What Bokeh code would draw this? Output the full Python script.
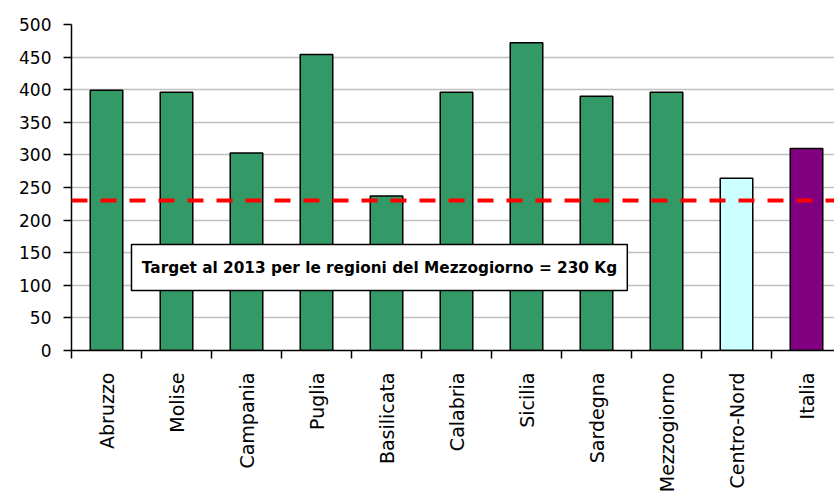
import math
from bokeh.plotting import figure
from bokeh.models import FixedTicker, Span, Label, BoxAnnotation, Range1d, ColumnDataSource
from bokeh.embed import file_html
from bokeh.resources import INLINE

categories = ["Abruzzo", "Molise", "Campania", "Puglia", "Basilicata", "Calabria",
              "Sicilia", "Sardegna", "Mezzogiorno", "Centro-Nord", "Italia"]
values = [399, 396, 303, 454, 237, 396, 472, 390, 396, 264, 310]
colors = ["#339966"] * 9 + ["#ccffff", "#800080"]
target = 230
target_label = "Target al 2013 per le regioni del Mezzogiorno = 230 Kg"
y_ticks = list(range(0, 501, 50))

x = [i + 0.5 for i in range(len(categories))]
src = ColumnDataSource(dict(x=x, top=values, color=colors, name=categories))

FONT = "DejaVu Sans"

p = figure(width=834, height=496, output_backend="svg", toolbar_location=None,
           x_range=Range1d(0, 10.9), y_range=Range1d(0, 500),
           min_border_left=71, min_border_right=0, min_border_top=24,
           min_border_bottom=146)
p.outline_line_color = None
p.background_fill_color = "white"
p.border_fill_color = "white"

p.vbar(x="x", top="top", bottom=0, width=0.465, fill_color="color",
       line_color="black", line_width=1.5, source=src)

# x axis
xa = p.xaxis[0]
xa.ticker = FixedTicker(ticks=x, minor_ticks=list(range(len(categories) + 1)))
xa.major_label_overrides = {xi: c for xi, c in zip(x, categories)}
xa.major_label_orientation = math.pi / 2
xa.major_tick_in = 0
xa.major_tick_out = 0
xa.minor_tick_in = 0
xa.minor_tick_out = 8
xa.minor_tick_line_color = "black"
xa.minor_tick_line_width = 1.5
xa.axis_line_color = "black"
xa.axis_line_width = 1.5
xa.major_label_standoff = 14
xa.major_label_text_font = FONT
xa.major_label_text_font_size = "19px"
xa.major_label_text_color = "black"

# y axis
ya = p.yaxis[0]
ya.ticker = FixedTicker(ticks=y_ticks)
ya.major_tick_in = 0
ya.major_tick_out = 8
ya.major_tick_line_color = "black"
ya.major_tick_line_width = 1.5
ya.minor_tick_line_color = None
ya.axis_line_color = "black"
ya.axis_line_width = 1.5
ya.major_label_standoff = 12
ya.major_label_text_font = FONT
ya.major_label_text_font_size = "17px"
ya.major_label_text_color = "black"

p.xgrid.grid_line_color = None
p.ygrid.grid_line_color = "#c0c0c0"
p.ygrid.grid_line_width = 1.5

p.add_layout(Span(location=target, dimension="width", line_color="#ff0000",
                  line_width=4, line_dash="16 13"))

p.add_layout(BoxAnnotation(left=0.857, right=7.94, bottom=92, top=162.6,
                           fill_color="white", fill_alpha=1.0,
                           line_color="black", line_width=1.5, line_alpha=1.0))
p.add_layout(Label(x=4.4, y=127.3, text=target_label, text_align="center",
                   text_baseline="middle", text_font=FONT, text_font_style="bold",
                   text_font_size="15.3px", text_color="black"))

open("out.html", "w").write(file_html(p, INLINE))
